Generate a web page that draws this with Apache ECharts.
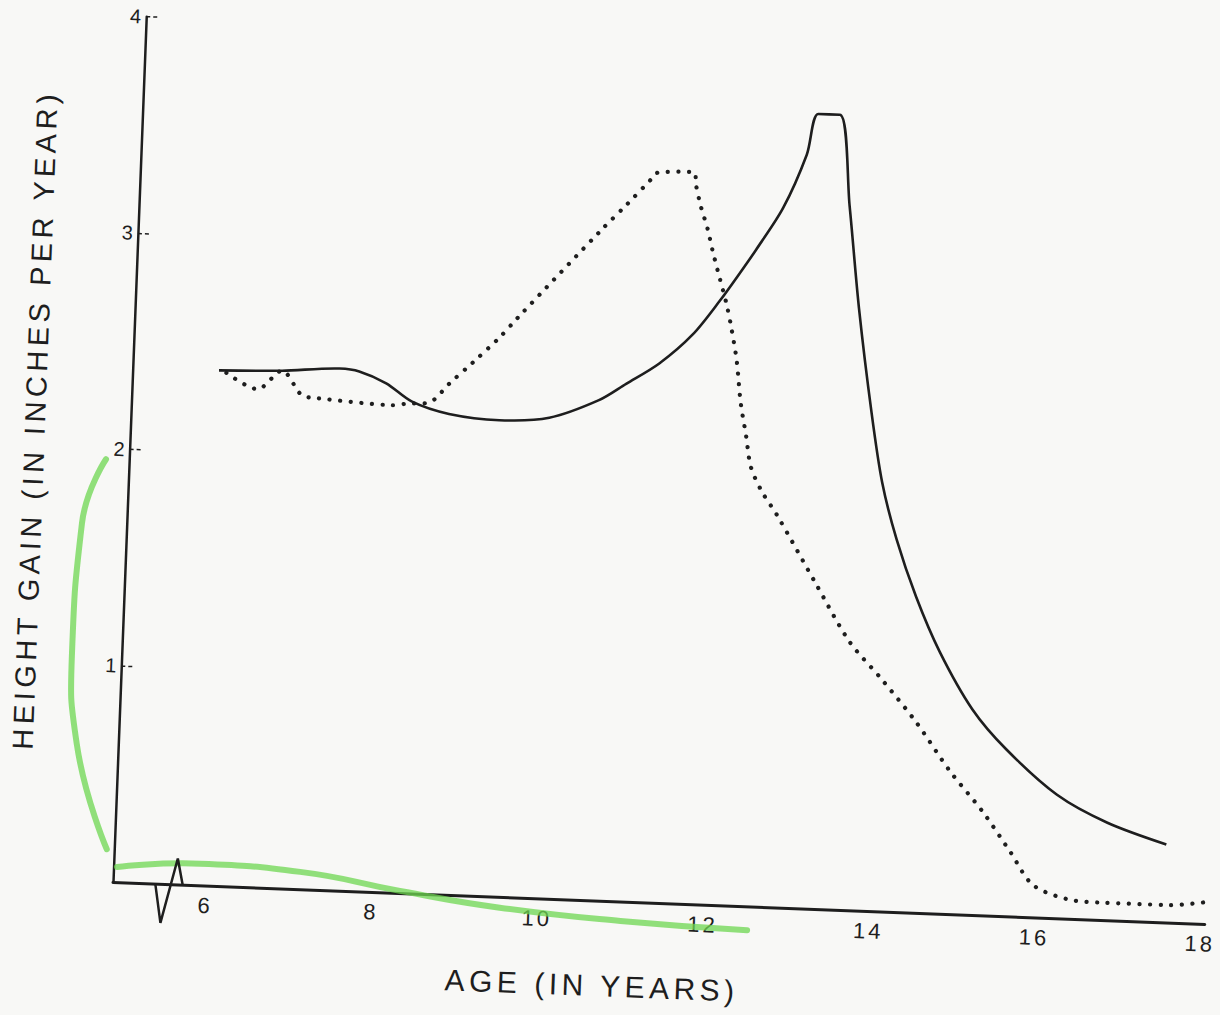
<!DOCTYPE html>
<html>
<head>
<meta charset="utf-8">
<script src="https://cdn.jsdelivr.net/npm/echarts@6/dist/echarts.min.js"></script>
<style>
  html, body { margin: 0; padding: 0; background: #f8f8f6; overflow: hidden; }
  #chart { width: 1220px; height: 1015px; transform: rotate(2.2deg); transform-origin: 113px 882px; }
  #chart text { letter-spacing: 3px; }
  #chart text[style*="30px"], #chart text[style*="29px"] { letter-spacing: 4.5px; }
</style>
</head>
<body>
<div id="chart"></div>
<script>
// Ages (years) and height gain (inches per year)
const solidAge  = [5.92, 6.68, 7.37, 7.61, 7.94, 8.26, 8.71, 9.32, 9.92, 10.51, 10.83, 11.22, 11.61, 11.92, 12.18, 12.33, 12.64, 12.90, 13.02, 13.28, 13.44, 13.60, 13.80, 13.96, 14.16, 14.42, 14.73, 15.15, 15.58, 16.21, 16.83, 17.55];
const solidGain = [2.38, 2.39, 2.41, 2.40, 2.35, 2.27, 2.22, 2.20, 2.22, 2.31, 2.39, 2.49, 2.63, 2.79, 2.94, 3.03, 3.23, 3.48, 3.67, 3.67, 3.25, 2.78, 2.30, 1.98, 1.72, 1.46, 1.21, 0.95, 0.77, 0.57, 0.45, 0.36];

const dottedAge  = [6.01, 6.39, 6.68, 6.93, 7.10, 8.02, 8.20, 8.47, 8.70, 8.97, 9.28, 9.48, 10.47, 10.76, 11.04, 11.11, 11.55, 11.58, 11.65, 11.74, 11.81, 11.88, 12.00, 12.07, 12.15, 12.22, 12.30, 12.37, 12.51, 12.71, 13.21, 13.64, 14.05, 14.48, 14.91, 15.32, 15.67, 15.96, 16.38, 16.78, 17.59, 18.19];
const dottedGain = [2.37, 2.30, 2.39, 2.28, 2.27, 2.25, 2.26, 2.27, 2.36, 2.46, 2.58, 2.67, 3.10, 3.22, 3.34, 3.37, 3.38, 3.32, 3.22, 3.12, 3.02, 2.93, 2.78, 2.67, 2.52, 2.32, 2.17, 2.03, 1.92, 1.81, 1.50, 1.24, 1.07, 0.88, 0.66, 0.48, 0.30, 0.15, 0.09, 0.08, 0.08, 0.11];

// Green highlighter strokes on the scan
const greenVAge  = [4.60, 4.34, 4.28, 4.38, 4.79];
const greenVGain = [1.95, 1.65, 1.05, 0.63, 0.15];
const greenHAge  = [4.92, 5.92, 7.13, 8.34, 9.55, 11.01, 12.54];
const greenHGain = [0.07, 0.10, 0.08, 0.01, -0.05, -0.09, -0.11];

// Axis-break zigzag on the age axis
const breakAge  = [5.39, 5.47, 5.65, 5.72];
const breakGain = [0, -0.18, 0.12, 0];

const xTicks = [6, 8, 10, 12, 14, 16, 18];
const yTicks = [1, 2, 3, 4];

const zip = (a, b) => a.map((v, i) => [v, b[i]]);
const ink = '#1e1e1e';
const green = 'rgba(110,215,80,0.75)';
const font = 'Liberation Sans, Arial, Helvetica, sans-serif';

const chart = echarts.init(document.getElementById('chart'), null, { renderer: 'svg' });
chart.setOption({
  backgroundColor: '#f8f8f6',
  animation: false,
  grid: [
    { left: 113, right: 14.4, top: 16, bottom: 133, outerBoundsMode: 'none' },
    { left: 40, width: 73, top: 16, bottom: 133, outerBoundsMode: 'none' }
  ],
  xAxis: [{
    type: 'value', min: 4.88, max: 18.05,
    name: 'AGE (IN YEARS)', nameLocation: 'middle', nameGap: 70,
    nameTextStyle: { fontFamily: font, fontSize: 30, color: ink, padding: [0, 128, 0, 0] },
    axisLine: { onZero: false, lineStyle: { color: ink, width: 3 } },
    axisTick: { show: false },
    splitLine: { show: false },
    axisLabel: { customValues: xTicks, fontFamily: font, fontSize: 22, color: ink, margin: 9 }
  }, {
    type: 'value', gridIndex: 1, min: 4.0, max: 4.88, show: false
  }],
  yAxis: [{
    type: 'value', min: 0, max: 4,
    name: 'HEIGHT GAIN (IN INCHES PER YEAR)', nameLocation: 'middle', nameGap: 81, nameRotate: 90,
    nameTextStyle: { fontFamily: font, fontSize: 29, color: ink, padding: [0, 0, 0, 52] },
    axisLine: { lineStyle: { color: ink, width: 2.5 } },
    axisTick: { customValues: yTicks, inside: true, length: 12, lineStyle: { color: ink, width: 1.5, type: [4, 3] } },
    splitLine: { show: false },
    axisLabel: { customValues: yTicks, fontFamily: font, fontSize: 20, color: ink, margin: 2 }
  }, {
    type: 'value', gridIndex: 1, min: 0, max: 4, show: false
  }],
  series: [
    { name: 'highlight-v', type: 'line', xAxisIndex: 1, yAxisIndex: 1, data: zip(greenVAge, greenVGain), smooth: 0.5, symbol: 'none', clip: false, z: 1,
      lineStyle: { color: green, width: 6, cap: 'round' } },
    { name: 'highlight-h', type: 'line', data: zip(greenHAge, greenHGain), smooth: 0.5, symbol: 'none', clip: false, z: 1,
      lineStyle: { color: green, width: 6, cap: 'round' } },
    { name: 'axis break', type: 'line', data: zip(breakAge, breakGain), symbol: 'none', clip: false, z: 3,
      lineStyle: { color: ink, width: 2.5 } },
    { name: 'solid', type: 'line', data: zip(solidAge, solidGain), smooth: 0.3, symbol: 'none', clip: false, z: 4,
      lineStyle: { color: ink, width: 2.6 } },
    { name: 'dotted', type: 'line', data: zip(dottedAge, dottedGain), smooth: 0.3, symbol: 'none', clip: false, z: 4,
      lineStyle: { color: ink, width: 4.2, type: [0.1, 10.5], cap: 'round' } }
  ]
});
</script>
</body>
</html>
